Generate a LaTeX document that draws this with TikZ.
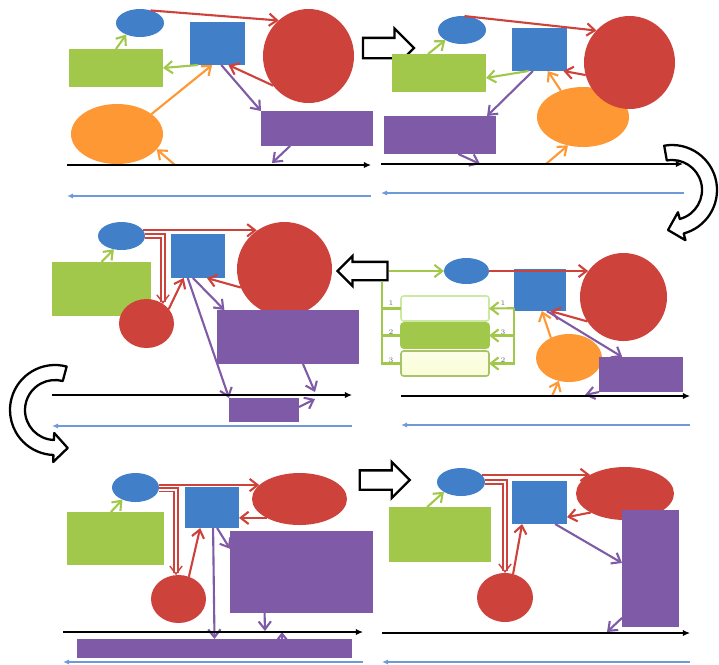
\documentclass[tikz,border=0pt]{standalone}
\usepackage{tikz}
\usetikzlibrary{arrows.meta,shapes.geometric,shapes.arrows}

\definecolor{cblue}{RGB}{65,128,200}
\definecolor{cred}{RGB}{206,66,60}
\definecolor{cgreen}{RGB}{162,200,75}
\definecolor{cpurple}{RGB}{127,91,167}
\definecolor{corange}{RGB}{253,152,52}
\definecolor{caxis}{RGB}{110,155,215}
\definecolor{cmint}{RGB}{205,232,160}
\definecolor{cpale}{RGB}{250,253,215}

\begin{document}
\begin{tikzpicture}[
  x=0.02cm, y=-0.02cm,
  >={Straight Barb[length=4.5pt,width=7pt]},
  sz/.style 2 args={minimum width=#1*0.02cm, minimum height=#2*0.02cm},
  blob/.style={ellipse, inner sep=0pt, outer sep=0pt},
  block/.style={rectangle, inner sep=0pt, outer sep=0pt},
  usr/.style={blob, fill=cblue},
  ctl/.style={block, fill=cblue},
  src/.style={blob, fill=cred},
  grnbox/.style={block, fill=cgreen},
  orgblob/.style={blob, fill=corange},
  purbox/.style={block, fill=cpurple},
  opt/.style={block, rounded corners=1.5pt, line width=0.9pt, sz={88}{25}},
  tag/.style={font=\fontsize{4}{4}\selectfont, text=black!60, inner sep=0.5pt},
  rl/.style={draw=cred, line width=1.2pt, ->},
  gl/.style={draw=cgreen, line width=1.2pt, ->},
  ol/.style={draw=corange, line width=1.2pt, ->},
  pl/.style={draw=cpurple, line width=1.2pt, ->},
  twin/.style={double=white, double distance=1.3pt, line width=0.8pt},
  timeline/.style={draw=black, line width=0.7pt, -{Latex[length=4pt,width=3.5pt]}},
  backline/.style={draw=caxis, line width=0.8pt, -{Latex[length=3.5pt,width=3pt]}},
  hollow/.style={single arrow, draw=black, fill=white, line width=1.3pt, inner xsep=0pt},
  turn/.style={draw=black, fill=white, line width=1.3pt, line join=round}
]
\useasboundingbox (0,0) rectangle (719,664);

% ---- stage 1
\node[usr, sz={48}{28}] (ell1) at (140,23) {};
\node[ctl, sz={55}{43}] (box1) at (217.5,43.5) {};
\node[src, sz={91}{94}] (big1) at (308.5,56) {};
\node[grnbox, sz={94}{38}] (grn1) at (116,68) {};
\node[orgblob, sz={92}{60}] (org1) at (117,134) {};
\node[purbox, sz={112}{35}] (pur1) at (317,128.5) {};
\coordinate (t1a) at (67,165); \coordinate (t1b) at (371,165);
\coordinate (b1a) at (371,196); \coordinate (b1b) at (67,196);
\coordinate (o1) at (175,165); \coordinate (p1) at (272,163);

\draw[rl] (ell1.50) -- (big1.130);
\draw[rl] (big1.220) -- (box1.-63);
\draw[gl] (box1.228) -- (grn1.east);
\draw[gl] (grn1.north) -- (ell1.220);
\draw[ol] (org1.30) -- (box1.256);
\draw[pl] (box1.-80) -- (pur1.north west);
\draw[pl] (pur1.213) -- (p1);
\draw[ol] (o1) -- (org1.-21);
\draw[timeline] (t1a) -- (t1b);
\draw[backline] (b1a) -- (b1b);

\node[hollow, minimum height=1.02cm, inner ysep=0.18cm,
  single arrow head extend=0.19cm] (blk1) at (383.5,48) {};

% ---- stage 2
\node[usr, sz={48}{28}] (ell2) at (462,30) {};
\node[ctl, sz={55}{43}] (box2) at (539.5,49.5) {};
\node[orgblob, sz={92}{60}] (org2) at (583,117) {};
\node[src, sz={91}{93}] (big2) at (629.5,62.5) {};
\node[grnbox, sz={94}{38}] (grn2) at (439,73) {};
\node[purbox, sz={112}{38}] (pur2) at (440,135) {};
\coordinate (t2a) at (381,164); \coordinate (t2b) at (683,164);
\coordinate (b2a) at (684,193); \coordinate (b2b) at (381,193);
\coordinate (o2) at (546,164); \coordinate (p2) at (480,164);

\draw[rl] (ell2.80) -- (big2.136);
\draw[rl] (big2.196) -- (box2.-42);
\draw[gl] (box2.243) -- (grn2.-6);
\draw[gl] (grn2.120) -- (ell2.211);
\draw[pl] (box2.253) -- (pur2.22);
\draw[pl] (pur2.-46) -- (p2);
\draw[ol] (org2.130) -- (box2.-69);
\draw[ol] (o2) -- (org2.242);
\draw[timeline] (t2a) -- (t2b);
\draw[backline] (b2a) -- (b2b);

% turn down to stage 3
\begin{scope}[shift={(672,190)}]
  \draw[turn] (-100:45) arc[start angle=-100, end angle=75, radius=45]
    -- (75:52) -- (-4,40) -- (75:23) -- (75:30)
    arc[start angle=75, end angle=-100, radius=30] -- cycle;
\end{scope}

% ---- stage 3 (right half of the middle row)
\node[usr, sz={45}{26}] (ell4) at (466.5,271) {};
\node[ctl, sz={52}{42}] (box4) at (540,290) {};
\node[src, sz={87}{88}] (big4) at (623.5,297) {};
\node[orgblob, sz={66}{48}] (org4) at (569,358) {};
\node[purbox, sz={84}{35}] (pur4) at (641,374.5) {};
\node[opt, draw=cmint, fill=white] (opt1) at (445,308.5) {};
\node[opt, draw=cgreen, fill=cgreen] (opt2) at (445,335.5) {};
\node[opt, draw=cgreen!90!black!80, top color=cpale!60!white, bottom color=cpale] (opt3) at (445,363.5) {};
\coordinate (t4a) at (401,396); \coordinate (t4b) at (690,396);
\coordinate (b4a) at (690,425); \coordinate (b4b) at (401,425);
\coordinate (o4) at (552,396); \coordinate (p4) at (585,395);
\coordinate (fork) at (382,281);

\node[hollow, minimum height=1.0cm, inner ysep=0.16cm, shape border rotate=180,
  single arrow head extend=0.12cm] (blk2) at (367,271) {};

\draw[gl] (blk2.tail) -- (ell4.west);
\draw[gl, -] (fork) |- (opt1.west);
\draw[gl, -] (fork) |- (opt2.west);
\draw[gl, -] (fork) |- (opt3.west);
\draw[gl] (box4.215) -- (opt1.east);
\draw[gl] (box4.215) |- (opt2.east);
\draw[gl] (box4.215) |- (opt3.east);
\node[tag] (l1) at (391,303) {1};
\node[tag] (l2) at (391,332) {2};
\node[tag] (l3) at (391,360) {3};
\node[tag] (r1) at (503,303) {1};
\node[tag] (r2) at (503,332) {3};
\node[tag] (r3) at (503,360) {2};

\draw[rl] (ell4.east) -- (ell4.east -| big4.144);
\draw[rl] (big4.214) -- (box4.-64);
\draw[pl] (box4.-72) -- (pur4.137);
\draw[ol] (org4.132) -- (box4.-85);
\draw[ol] (o4) -- (org4.246);
\draw[pl] (pur4.south west) -- (p4);
\draw[timeline] (t4a) -- (t4b);
\draw[backline] (b4a) -- (b4b);

% ---- stage 4 (left half of the middle row)
\node[usr, sz={47}{28}] (ell3) at (121.5,236) {};
\node[ctl, sz={54}{44}] (box3) at (198,256) {};
\node[src, sz={95}{94}] (big3) at (284.5,269) {};
\node[grnbox, sz={99}{54}] (grn3) at (101.5,289) {};
\node[src, sz={55}{49}] (sml3) at (146.5,323.5) {};
\node[purbox, sz={142}{54}] (pur3) at (288,337) {};
\node[purbox, sz={70}{24}] (low3) at (264,410) {};
\coordinate (t3a) at (52,395); \coordinate (t3b) at (352,395);
\coordinate (b3a) at (352,426); \coordinate (b3b) at (52,426);
\coordinate (p3a) at (315,392); \coordinate (p3b) at (315,399);

\draw[rl] (ell3.15) -- (ell3.15 -| big3.126);
\draw[rl, twin] (ell3.east) -| (sml3.50);
\draw[rl] (sml3.33) -- (box3.237);
\draw[rl] (big3.203) -- (box3.-68);
\draw[pl] (box3.245) -- (low3.north west);
\draw[pl] (box3.257) -- (pur3.157);
\draw[pl] (pur3.-61) -- (p3a);
\draw[pl] (low3.5) -- (p3b);
\draw[gl] (grn3.north) -- (ell3.240);
\draw[timeline] (t3a) -- (t3b);
\draw[backline] (b3a) -- (b3b);

% turn down to stage 5
\begin{scope}[shift={(55,410)}]
  \draw[turn] (-75:45) arc[start angle=-75, end angle=-268, radius=45]
    -- (-268:52) -- (12.7,38) -- (-268:23) -- (-268:30)
    arc[start angle=-268, end angle=-75, radius=30] -- cycle;
\end{scope}

% ---- stage 5
\node[usr, sz={47}{29}] (ell5) at (135.5,487.5) {};
\node[ctl, sz={54}{41}] (box5) at (212,507.5) {};
\node[src, sz={95}{52}] (big5) at (299.5,499) {};
\node[grnbox, sz={97}{53}] (grn5) at (115.5,538.5) {};
\node[src, sz={55}{48}] (sml5) at (178.5,599) {};
\node[purbox, sz={143}{82}] (pur5) at (301.5,572) {};
\node[purbox, sz={275}{19}] (bar5) at (214.5,648.5) {};
\coordinate (t5a) at (63,632); \coordinate (t5b) at (363,632);
\coordinate (b5a) at (363,662); \coordinate (b5b) at (63,662);
\coordinate (p5a) at (265,631); \coordinate (p5b) at (282,632);

\draw[rl] (ell5.6) -- (ell5.6 -| big5.161);
\draw[rl, twin] (ell5.-6) -| (sml5.96);
\draw[rl] (sml5.65) -- (box5.240);
\draw[rl] (big5.210) -- (big5.210 -| box5.east);
\draw[pl] (box5.-87) -- (bar5.north);
\draw[pl] (box5.-76) -- (pur5.162);
\draw[pl] (pur5.228) -- (p5a);
\draw[pl] (bar5.8) -- (p5b);
\draw[gl] (grn5.100) -- (ell5.223);
\draw[timeline] (t5a) -- (t5b);
\draw[backline] (b5a) -- (b5b);

\node[hollow, minimum height=1.0cm, inner ysep=0.17cm,
  single arrow head extend=0.17cm] (blk3) at (380,480) {};

% ---- stage 6
\node[usr, sz={48}{28}] (ell6) at (461,482) {};
\node[ctl, sz={55}{43}] (box6) at (539.5,502.5) {};
\node[src, sz={98}{53}] (big6) at (625,493.5) {};
\node[grnbox, sz={102}{55}] (grn6) at (440,534.5) {};
\node[src, sz={56}{49}] (sml6) at (505,597.5) {};
\node[purbox, sz={57}{117}] (pur6) at (650.5,568.5) {};
\coordinate (t6a) at (382,633); \coordinate (t6b) at (690,633);
\coordinate (b6a) at (690,662); \coordinate (b6b) at (382,662);
\coordinate (p6) at (607,632);

\draw[rl] (ell6.19) -- (ell6.19 -| big6.152);
\draw[rl, twin] (ell6.east) -| (sml6.north);
\draw[rl] (sml6.71) -- (box6.231);
\draw[rl] (big6.209) -- (box6.-28);
\draw[pl] (box6.-54) -- (pur6.169);
\draw[pl] (pur6.240) -- (p6);
\draw[gl] (grn6.115) -- (ell6.210);
\draw[timeline] (t6a) -- (t6b);
\draw[backline] (b6a) -- (b6b);

\end{tikzpicture}
\end{document}
